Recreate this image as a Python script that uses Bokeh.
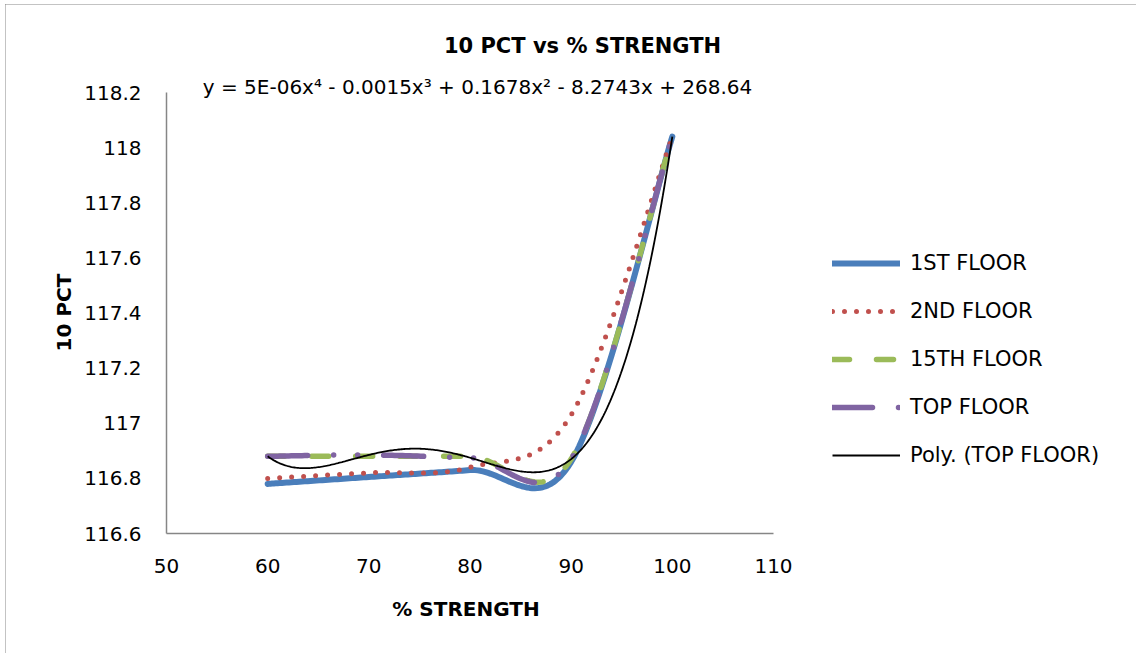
import numpy as np
from bokeh.plotting import figure
from bokeh.models import (Legend, LegendItem, Label, FixedTicker, NumeralTickFormatter,
                          Range1d)
from bokeh.embed import file_html
from bokeh.resources import INLINE

# ---------------- data ----------------
strength = [60, 70, 80, 90, 100]
floor_1st = [116.78, 116.805, 116.83, 116.86, 118.04]
floor_2nd = [116.80, 116.82, 116.84, 117.03, 118.04]
floor_15th = [116.88, 116.88, 116.88, 116.87, 118.04]
floor_top = [116.88, 116.885, 116.875, 116.87, 118.04]
x_ticks = [50, 60, 70, 80, 90, 100, 110]
y_ticks = [116.6, 116.8, 117.0, 117.2, 117.4, 117.6, 117.8, 118.0, 118.2]
series_names = ["1ST FLOOR", "2ND FLOOR", "15TH FLOOR", "TOP FLOOR"]
trend_name = "Poly. (TOP FLOOR)"
title_text = "10 PCT vs % STRENGTH"
equation_text = "y = 5E-06x\u2074 - 0.0015x\u00b3 + 0.1678x\u00b2 - 8.2743x + 268.64"
x_title = "%  STRENGTH"
y_title = "10 PCT"
x_axis_min, x_axis_max = 50, 110
y_axis_min, y_axis_max = 116.6, 118.2


def smooth(xs, ys, n=40):
    """Excel-like smoothed line (Catmull-Rom Bezier) through the data points."""
    P = np.column_stack([xs, ys]).astype(float)
    m = len(P)
    out = []
    for i in range(m - 1):
        p0 = P[i - 1] if i > 0 else P[i]
        p1 = P[i]
        p2 = P[i + 1]
        p3 = P[i + 2] if i + 2 < m else P[i + 1]
        c1 = p1 + (p2 - p0) / 6.0
        c2 = p2 - (p3 - p1) / 6.0
        t = np.linspace(0, 1, n)[:, None]
        seg = ((1 - t) ** 3) * p1 + 3 * ((1 - t) ** 2) * t * c1 + 3 * (1 - t) * t ** 2 * c2 + t ** 3 * p2
        out.append(seg if i == 0 else seg[1:])
    arr = np.vstack(out)
    return arr[:, 0], arr[:, 1]


FONT = "DejaVu Sans"
W, H = 1131, 649
# the frame fills the whole canvas; axes are drawn at fixed locations inside it
AX_LEFT, AX_BOTTOM = 161, 120          # axis origin, px from canvas left / bottom
AXIS_W_PX, AXIS_H_PX = 607, 441        # pixel extent of the drawn axes
xppu = AXIS_W_PX / (x_axis_max - x_axis_min)
yppu = AXIS_H_PX / (y_axis_max - y_axis_min)
x0 = x_axis_min - AX_LEFT / xppu
y0 = y_axis_min - AX_BOTTOM / yppu

p = figure(width=W, height=H, output_backend="svg", toolbar_location=None,
           x_range=Range1d(x0, x0 + W / xppu), y_range=Range1d(y0, y0 + H / yppu),
           min_border=0, min_border_left=0, min_border_right=0,
           min_border_top=0, min_border_bottom=0)
p.styles = {"margin-left": "5px", "margin-top": "4px",
            "outline": "2px solid #868686", "outline-offset": "-2px"}
p.outline_line_color = None
p.xgrid.visible = False
p.ygrid.visible = False
p.background_fill_color = "white"
p.border_fill_color = "white"

for ax in (p.xaxis[0], p.yaxis[0]):
    ax.axis_line_color = "#868686"
    ax.axis_line_width = 1.5
    ax.major_tick_line_color = None
    ax.minor_tick_line_color = None
    ax.major_tick_out = 0
    ax.major_tick_in = 0
    ax.major_label_text_font = FONT
    ax.major_label_text_font_size = "20px"
    ax.major_label_text_color = "black"

p.xaxis.fixed_location = y_axis_min
p.yaxis.fixed_location = x_axis_min
p.xaxis.bounds = (x_axis_min, x_axis_max)
p.yaxis.bounds = (y_axis_min, y_axis_max)
p.xaxis.ticker = FixedTicker(ticks=x_ticks)
p.yaxis.ticker = FixedTicker(ticks=y_ticks)
p.yaxis.formatter = NumeralTickFormatter(format="0.[0]")
p.xaxis.major_label_standoff = 25
p.yaxis.major_label_standoff = 25

sx, sy = smooth(strength, floor_1st)
r1 = p.line(sx, sy, line_color="#4A7EBB", line_width=6, line_cap="round", line_join="round")
sx, sy = smooth(strength, floor_2nd)
r2 = p.line(sx, sy, line_color="#C0504D", line_width=5, line_dash="0 12", line_cap="round")
sx, sy = smooth(strength, floor_15th)
r3 = p.line(sx, sy, line_color="#9BBB59", line_width=5.5, line_dash="17 27", line_cap="round")
sx, sy = smooth(strength, floor_top)
r4 = p.line(sx, sy, line_color="#8064A2", line_width=5.5, line_dash="40 26 0 24 0 26", line_cap="round")

coef = np.polyfit(strength, floor_top, 4)
tx = np.linspace(min(strength), max(strength), 300)
r5 = p.line(tx, np.polyval(coef, tx), line_color="black", line_width=1.8)

# positions in screen units, measured from the canvas' bottom-left corner
legend = Legend(items=[LegendItem(label=n, renderers=[r]) for n, r in
                       zip(series_names + [trend_name], [r1, r2, r3, r4, r5])],
                location=(827, 186), orientation="vertical",
                glyph_width=68, glyph_height=20, label_height=20, spacing=24,
                label_standoff=10, padding=0, margin=0,
                label_text_font=FONT, label_text_font_size="21px", label_text_color="black",
                border_line_color=None, background_fill_alpha=0)
p.add_layout(legend, "center")

p.add_layout(Label(x=577, y=608, x_units="screen", y_units="screen",
                   text=title_text, text_font=FONT, text_font_style="bold", text_font_size="21px",
                   text_color="black", text_align="center", text_baseline="middle"))
p.add_layout(Label(x=472, y=567, x_units="screen", y_units="screen",
                   text=equation_text, text_font=FONT, text_font_size="20px",
                   text_color="black", text_align="center", text_baseline="middle"))
p.add_layout(Label(x=464, y=45, x_units="screen", y_units="screen",
                   text=x_title, text_font=FONT, text_font_style="bold", text_font_size="20px",
                   text_color="black", text_align="center", text_baseline="middle"))
p.add_layout(Label(x=58, y=341, x_units="screen", y_units="screen", angle=np.pi / 2,
                   text=y_title, text_font=FONT, text_font_style="bold", text_font_size="20px",
                   text_color="black", text_align="center", text_baseline="middle"))

open("out.html", "w").write(file_html(p, INLINE))
